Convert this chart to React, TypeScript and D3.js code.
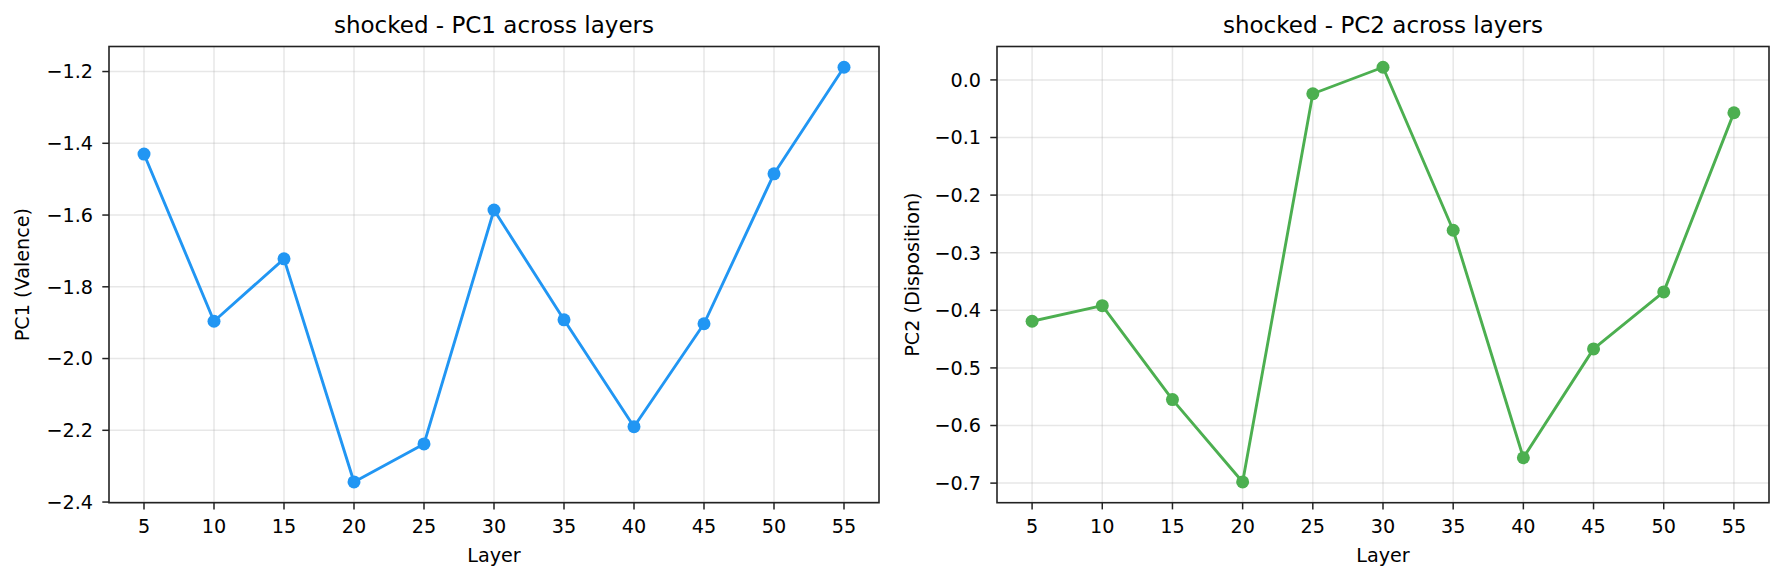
import React from "react";
import * as d3 from "d3";

const layers = [5, 10, 15, 20, 25, 30, 35, 40, 45, 50, 55];
const pc1Values = [-1.430, -1.896, -1.722, -2.344, -2.238, -1.586, -1.892, -2.190, -1.903, -1.485, -1.188];
const pc2Values = [-0.419, -0.392, -0.555, -0.698, -0.024, 0.022, -0.261, -0.656, -0.467, -0.368, -0.057];
const xTicks = [5, 10, 15, 20, 25, 30, 35, 40, 45, 50, 55];
const pc1Ticks = [-2.4, -2.2, -2.0, -1.8, -1.6, -1.4, -1.2];
const pc2Ticks = [-0.7, -0.6, -0.5, -0.4, -0.3, -0.2, -0.1, 0.0];

const W = 1784;
const H = 581;
const FONT = "DejaVu Sans, sans-serif";

type PanelProps = {
  left: number;
  right: number;
  top: number;
  bottom: number;
  values: number[];
  yTicks: number[];
  color: string;
  title: string;
  yLabel: string;
  yLabelX: number;
};

function Panel({ left, right, top, bottom, values, yTicks, color, title, yLabel, yLabelX }: PanelProps) {
  const x = d3.scaleLinear().domain([2.5, 57.5]).range([left, right]);
  const mn = d3.min(values) as number;
  const mx = d3.max(values) as number;
  const pad = (mx - mn) * 0.05;
  const y = d3.scaleLinear().domain([mn - pad, mx + pad]).range([bottom, top]);
  const fmt = d3.format(".1f");
  const line = d3
    .line<number>()
    .x((_, i) => x(layers[i]))
    .y((d) => y(d));
  const cy = (top + bottom) / 2;
  return (
    <g>
      {/* grid */}
      {xTicks.map((t) => (
        <line key={"gx" + t} x1={x(t)} x2={x(t)} y1={top} y2={bottom} stroke="#b0b0b0" strokeOpacity={0.3} strokeWidth={1.5} />
      ))}
      {yTicks.map((t) => (
        <line key={"gy" + t} x1={left} x2={right} y1={y(t)} y2={y(t)} stroke="#b0b0b0" strokeOpacity={0.3} strokeWidth={1.5} />
      ))}
      {/* data */}
      <path d={line(values) || ""} fill="none" stroke={color} strokeWidth={2.9} strokeLinejoin="round" strokeLinecap="square" />
      {values.map((v, i) => (
        <circle key={"p" + i} cx={x(layers[i])} cy={y(v)} r={6.5} fill={color} />
      ))}
      {/* spines */}
      <rect x={left} y={top} width={right - left} height={bottom - top} fill="none" stroke="#222" strokeWidth={1.6} />
      {/* x ticks */}
      {xTicks.map((t) => (
        <g key={"xt" + t}>
          <line x1={x(t)} x2={x(t)} y1={bottom} y2={bottom + 6.7} stroke="#222" strokeWidth={1.5} />
          <text x={x(t)} y={533} textAnchor="middle" fontSize={19.2} fontFamily={FONT} fill="#000">
            {t}
          </text>
        </g>
      ))}
      {/* y ticks */}
      {yTicks.map((t) => (
        <g key={"yt" + t}>
          <line x1={left - 6.7} x2={left} y1={y(t)} y2={y(t)} stroke="#222" strokeWidth={1.5} />
          <text x={left - 16} y={y(t)} dy="0.36em" textAnchor="end" fontSize={19.2} fontFamily={FONT} fill="#000">
            {fmt(t)}
          </text>
        </g>
      ))}
      {/* labels */}
      <text x={(left + right) / 2} y={562} textAnchor="middle" fontSize={19.2} fontFamily={FONT} fill="#000">
        Layer
      </text>
      <text
        x={yLabelX}
        y={cy}
        transform={`rotate(-90 ${yLabelX} ${cy})`}
        textAnchor="middle"
        dy="0.36em"
        fontSize={19.2}
        fontFamily={FONT}
        fill="#000"
      >
        {yLabel}
      </text>
      <text x={(left + right) / 2} y={33} textAnchor="middle" fontSize={23} fontFamily={FONT} fill="#000">
        {title}
      </text>
    </g>
  );
}

export default function App() {
  return (
    <svg
      width={W}
      height={H}
      viewBox={`0 0 ${W} ${H}`}
      style={{ position: "fixed", left: 0, top: 0, background: "#fff" }}
    >
      <rect x={0} y={0} width={W} height={H} fill="#fff" />
      <Panel
        left={109}
        right={879}
        top={46.5}
        bottom={502.7}
        values={pc1Values}
        yTicks={pc1Ticks}
        color="#2196F3"
        title="shocked - PC1 across layers"
        yLabel="PC1 (Valence)"
        yLabelX={22}
      />
      <Panel
        left={997}
        right={1769}
        top={46.5}
        bottom={502.7}
        values={pc2Values}
        yTicks={pc2Ticks}
        color="#4CAF50"
        title="shocked - PC2 across layers"
        yLabel="PC2 (Disposition)"
        yLabelX={912}
      />
    </svg>
  );
}
